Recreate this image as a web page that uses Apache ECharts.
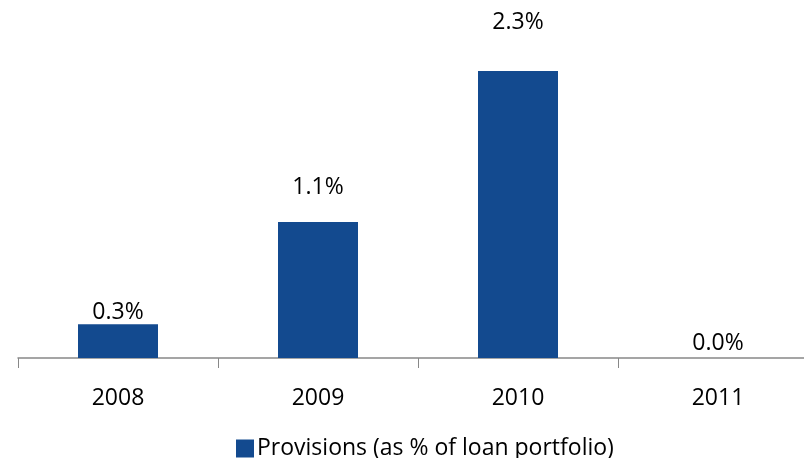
<!DOCTYPE html>
<html><head><meta charset="utf-8">
<script src="https://cdn.jsdelivr.net/npm/echarts@6/dist/echarts.min.js"></script>
<style>html,body{margin:0;padding:0;background:#fff}#c{width:804px;height:458px}</style>
</head><body><div id="c"></div>
<script>
const categories = ['2008', '2009', '2010', '2011'];
const provisions = [0.27, 1.09, 2.30, 0.0];
const seriesName = 'Provisions (as % of loan portfolio)';
// label gap above each bar (style only)
const labelGaps = [0, 23, 37, 3];

const chart = echarts.init(document.getElementById('c'));
const font = '"Open Sans", sans-serif';
chart.setOption({
  animation: false,
  textStyle: { fontFamily: font },
  grid: { left: 18, top: 46, width: 800, height: 312, outerBoundsMode: 'none', containLabel: false },
  legend: {
    top: 432, left: 231, itemWidth: 18, itemHeight: 18, itemGap: 4,
    icon: 'rect',
    textStyle: { fontSize: 23, color: '#000', fontFamily: font, padding: [0, 0, 0, -2] },
    data: [seriesName]
  },
  xAxis: {
    type: 'category', data: categories,
    axisLine: { lineStyle: { color: '#888', width: 1.5 } },
    axisTick: { show: true, length: 10, lineStyle: { color: '#888' } },
    axisLabel: { fontSize: 23, color: '#000', margin: 29, fontFamily: font }
  },
  yAxis: { type: 'value', min: 0, max: 2.5, show: false, splitLine: { show: false } },
  series: [{
    name: seriesName, type: 'bar', barWidth: 80,
    data: provisions.map((v, i) => ({ value: v, label: { distance: labelGaps[i] } })),
    itemStyle: { color: '#134A8F' },
    label: { show: true, position: 'top', fontSize: 23, color: '#000', fontFamily: font,
      formatter: p => p.value.toFixed(1) + '%' }
  }]
});
</script></body></html>
